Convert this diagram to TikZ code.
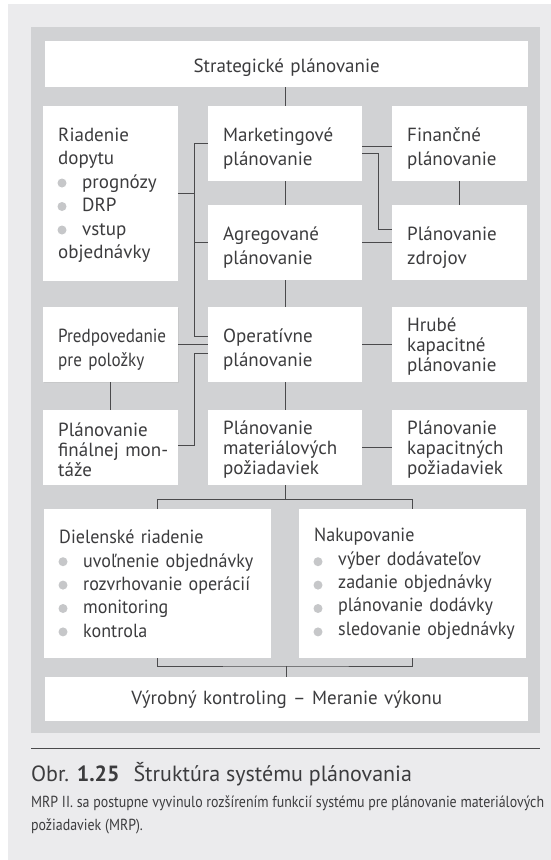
\documentclass[tikz,border=0pt]{standalone}
\usepackage{fontspec}
\setmainfont{PT Sans}
\newfontfamily\condfont[FakeStretch=0.9]{PT Sans}
\newfontfamily\listfont[FakeStretch=0.95]{PT Sans}
\newfontfamily\notefont[FakeStretch=0.87]{PT Sans}
\usepackage{tikz}
\usetikzlibrary{positioning,shadows}
\definecolor{plouter}{HTML}{EBEBED}
\definecolor{plinner}{HTML}{D1D2D4}
\definecolor{plink}{HTML}{3C3C3E}
\definecolor{plline}{HTML}{4A4A4C}
\definecolor{plbullet}{HTML}{C6C7C9}

% one list line, with room for the grey dot in front
\newcommand\pldot[1]{\mbox{\hspace*{24pt}#1}}

\tikzset{
  plbox/.style={fill=white,anchor=north west,inner xsep=15pt,inner ysep=0pt,align=left,
    text=plink,font=\fontsize{19}{24}\selectfont},
  plnarrow/.style={plbox,minimum width=135pt,text width=105pt,minimum height=75pt,text height=24pt},
  plwide/.style={plbox,minimum width=154pt,text width=124pt,minimum height=75pt,text height=24pt},
  pltight/.style={font=\fontsize{19}{20}\selectfont,text height=17pt},
  plbar/.style={plbox,minimum width=483pt,text width=453pt,align=center},
  pllist/.style={plbox,minimum width=227pt,text width=197pt,minimum height=149pt,
    font=\listfont\fontsize{19}{23.4}\selectfont},
  pllink/.style={draw=plline,line width=0.9pt},
  plbul/.style={fill=plbullet}
}

\begin{document}
\begin{tikzpicture}[x=1pt,y=-1pt]
  \useasboundingbox (0,0) rectangle (551,860);
  \fill[plouter] (8,4) rectangle (551,860);
  \fill[plinner] (31,27) rectangle (540,733);

  \node[plbar,minimum height=46pt,text height=20pt] (strat) at (45,41) {Strategické plánovanie};

  \node[plnarrow,minimum height=175pt,text height=17pt,font=\fontsize{19}{23.5}\selectfont] (riad) at (43,106)
    {Riadenie\\dopytu\\\pldot{prognózy}\\\pldot{DRP}\\\pldot{vstup}\\objednávky};
  \node[plwide] (mkt) at (208,106) {Marketingové\\plánovanie};
  \node[plnarrow] (fin) at (392,106) {Finančné\\plánovanie};

  \node[plwide] (agg) at (208,205) {Agregované\\plánovanie};
  \node[plnarrow] (zdr) at (392,205) {Plánovanie\\zdrojov};

  \node[plnarrow,font=\condfont\fontsize{19}{24}\selectfont,
    drop shadow={shadow xshift=1pt,shadow yshift=-1pt,fill=black!25}] (pred) at (43,307)
    {Predpovedanie\\pre položky};
  \node[plwide] (op) at (208,307) {Operatívne\\plánovanie};
  \node[plnarrow,pltight] (hrub) at (392,307) {Hrubé\\kapacitné\\plánovanie};

  \node[plnarrow,pltight] (fmon) at (43,410) {Plánovanie\\\mbox{finálnej mon-}\\táže};
  \node[plwide,pltight] (mrp) at (208,410) {Plánovanie\\materiálových\\požiadaviek};
  \node[plnarrow,pltight] (kap) at (392,410) {Plánovanie\\kapacitných\\požiadaviek};

  \node[pllist] (diel) at (44,509)
    {Dielenské riadenie\\\pldot{uvoľnenie objednávky}\\\pldot{rozvrhovanie operácií}\\
     \pldot{monitoring}\\\pldot{kontrola}};
  \node[pllist] (nak) at (299,509)
    {Nakupovanie\\\pldot{výber dodávateľov}\\\pldot{zadanie objednávky}\\
     \pldot{plánovanie dodávky}\\\pldot{sledovanie objednávky}};

  \node[plbar,minimum height=44pt] (vyr) at (45,677) {Výrobný kontroling – Meranie výkonu};

  % grey dots of the lists
  \foreach \k in {0,1,2}
    \fill[plbul] ([xshift=19pt,yshift=-77-23.5*\k]riad.north west) circle (4.5pt);
  \foreach \k in {0,...,3}{
    \fill[plbul] ([xshift=19pt,yshift=-52.7-23.4*\k]diel.north west) circle (4.5pt);
    \fill[plbul] ([xshift=19pt,yshift=-52.7-23.4*\k]nak.north west) circle (4.5pt);
  }

  % main chain
  \draw[pllink] (strat.south -| mkt.north) -- (mkt.north);
  \draw[pllink] (mkt.south) -- (agg.north);
  \draw[pllink] (agg.south) -- (op.north);
  \draw[pllink] (op.south) -- (mrp.north);

  % left bus
  \coordinate (bus) at ([xshift=-14pt]mkt.west);
  \draw[pllink] (mkt.west) -- (bus) |- ([yshift=8.5pt]op.west);
  \draw[pllink] (riad.east) -- (riad.east -| bus);
  \draw[pllink] (agg.west) -- (agg.west -| bus);
  \draw[pllink] (pred.east) -- (op.west);
  \draw[pllink] (pred.south) -- (fmon.north);
  \coordinate (fmonin) at ([yshift=2.5pt]fmon.east);
  \draw[pllink] ([yshift=-8.5pt]op.west) -| (fmonin -| bus) -- (fmonin);

  % right side
  \draw[pllink] ([yshift=-2.5pt]mkt.east) -- ([yshift=-2.5pt]fin.west);
  \coordinate (stepr) at ([xshift=16pt,yshift=-9.5pt]mkt.east);
  \draw[pllink] ([yshift=-9.5pt]mkt.east) -- (stepr) |- ([yshift=13.5pt]zdr.west);
  \draw[pllink] (agg.east) -- (zdr.west);
  \draw[pllink] (fin.south) -- (zdr.north);
  \draw[pllink] (op.east) -- (hrub.west);
  \draw[pllink] (mrp.east) -- (kap.west);

  % bottom brackets
  \coordinate (split) at ([yshift=-14pt]mrp.south);
  \draw[pllink] (mrp.south) -- (split);
  \draw[pllink] (diel.north) |- (split) -| (nak.north);
  \coordinate (join) at ([yshift=11pt]vyr.north);
  \draw[pllink] (diel.south) |- (join) -| (nak.south);
  \draw[pllink] (join) -- (vyr.north);

  % caption
  \draw[plline,line width=0.9pt] (31,748) -- (540,748);
  \node[anchor=base west,inner sep=0pt,text=plink,font=\fontsize{22}{24}\selectfont] (cap) at (31,781)
    {Obr. \textbf{1.25}\hspace{8pt} Štruktúra systému plánovania};
  \node[anchor=base west,inner sep=0pt,text=plink,font=\notefont\fontsize{16}{23}\selectfont] (note1) at (31,807)
    {MRP II. sa postupne vyvinulo rozšírením funkcií systému pre plánovanie materiálových};
  \node[anchor=base west,inner sep=0pt,text=plink,font=\notefont\fontsize{16}{23}\selectfont] (note2) at (31,830)
    {požiadaviek (MRP).};
\end{tikzpicture}
\end{document}
